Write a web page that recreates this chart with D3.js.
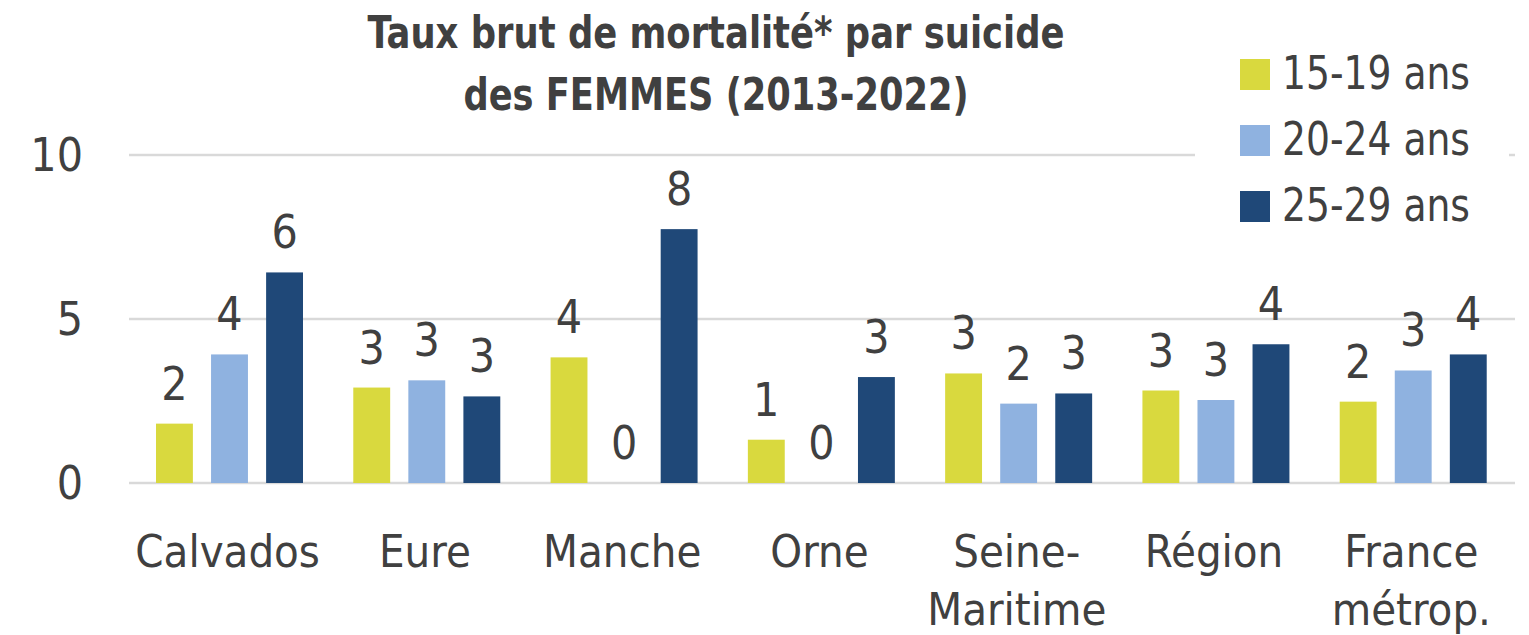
<!DOCTYPE html>
<html>
<head>
<meta charset="utf-8">
<script src="https://cdn.jsdelivr.net/npm/d3@7"></script>
<style>
  body { margin: 0; background: #fff; }
  svg text { font-family: "Liberation Sans Narrow", "DejaVu Sans Condensed", sans-serif; fill: #404040; }
</style>
</head>
<body>
<div id="chart"></div>
<script>
var svgWidth = 1529, svgHeight = 635;

// data
var categories = [["Calvados"], ["Eure"], ["Manche"], ["Orne"], ["Seine-", "Maritime"], ["Région"], ["France", "métrop."]];
var series = ["15-19 ans", "20-24 ans", "25-29 ans"];
var colors = ["#d9d93e", "#8fb2e0", "#1f4878"];
var vals1519 = [1.81, 2.91, 3.83, 1.32, 3.34, 2.82, 2.48];
var vals2024 = [3.92, 3.13, 0, 0, 2.42, 2.53, 3.43];
var vals2529 = [6.42, 2.64, 7.74, 3.23, 2.73, 4.23, 3.92];
var yTicks = [0, 5, 10];
var titleLines = ["Taux brut de mortalité* par suicide", "des FEMMES (2013-2022)"];
var titleWidths = [697, 505];

var allVals = [vals1519, vals2024, vals2529];

var svg = d3.select("#chart").append("svg")
  .attr("width", svgWidth)
  .attr("height", svgHeight);

var x0 = d3.scaleBand()
  .domain(d3.range(categories.length))
  .range([129, 1510]);

var x1 = d3.scaleBand()
  .domain(d3.range(series.length))
  .range([27, 27 + 147])
  .paddingInner(0.33);

var y = d3.scaleLinear()
  .domain([0, 10])
  .range([483, 155]);

// gridlines
svg.append("g")
  .selectAll("line")
  .data(yTicks)
  .enter()
  .append("line")
  .attr("x1", 129)
  .attr("x2", 1515)
  .attr("y1", d => y(d))
  .attr("y2", d => y(d))
  .attr("stroke", "#d9d9d9")
  .attr("stroke-width", 2.5);

// y axis labels
svg.append("g")
  .selectAll("text")
  .data(yTicks)
  .enter()
  .append("text")
  .attr("x", 83)
  .attr("y", d => y(d) + 16)
  .attr("text-anchor", "end")
  .attr("font-size", 46)
  .text(d => d);

// bars
var groups = svg.selectAll("g.cat")
  .data(categories)
  .enter()
  .append("g")
  .attr("class", "cat")
  .attr("transform", (d, i) => "translate(" + x0(i) + ",0)");

groups.each(function(d, i) {
  var g = d3.select(this);
  var row = allVals.map(v => v[i]);
  g.selectAll("rect")
    .data(row)
    .enter()
    .append("rect")
    .attr("x", (v, s) => x1(s))
    .attr("y", v => y(v))
    .attr("width", x1.bandwidth())
    .attr("height", v => y(0) - y(v))
    .attr("fill", (v, s) => colors[s]);

  g.selectAll("text.lbl")
    .data(row)
    .enter()
    .append("text")
    .attr("class", "lbl")
    .attr("x", (v, s) => x1(s) + x1.bandwidth() / 2)
    .attr("y", v => y(v) - 24)
    .attr("text-anchor", "middle")
    .attr("font-size", 46)
    .text(v => Math.round(v));

  var lab = g.append("text")
    .attr("text-anchor", "middle")
    .attr("font-size", 45);
  lab.selectAll("tspan")
    .data(d)
    .enter()
    .append("tspan")
    .attr("x", x0.bandwidth() / 2)
    .attr("y", (t, k) => 567 + k * 58)
    .text(t => t);
});

// title
svg.append("g")
  .selectAll("text")
  .data(titleLines)
  .enter()
  .append("text")
  .attr("text-anchor", "middle")
  .attr("font-size", 45)
  .attr("font-weight", "bold")
  .attr("x", 716)
  .attr("y", (d, i) => 48 + i * 62)
  .attr("textLength", (d, i) => titleWidths[i])
  .attr("lengthAdjust", "spacingAndGlyphs")
  .text(d => d);

// legend
var legend = svg.append("g").attr("transform", "translate(1195,40)");
legend.append("rect")
  .attr("width", 314)
  .attr("height", 200)
  .attr("fill", "#fff");

var items = legend.selectAll("g.item")
  .data(series)
  .enter()
  .append("g")
  .attr("class", "item")
  .attr("transform", (d, i) => "translate(45," + (19 + i * 66) + ")");

items.append("rect")
  .attr("width", 30)
  .attr("height", 31)
  .attr("fill", (d, i) => colors[i]);

items.append("text")
  .attr("x", 42)
  .attr("y", 30)
  .attr("font-size", 46)
  .attr("textLength", 188)
  .attr("lengthAdjust", "spacingAndGlyphs")
  .text(d => d);
</script>
</body>
</html>
